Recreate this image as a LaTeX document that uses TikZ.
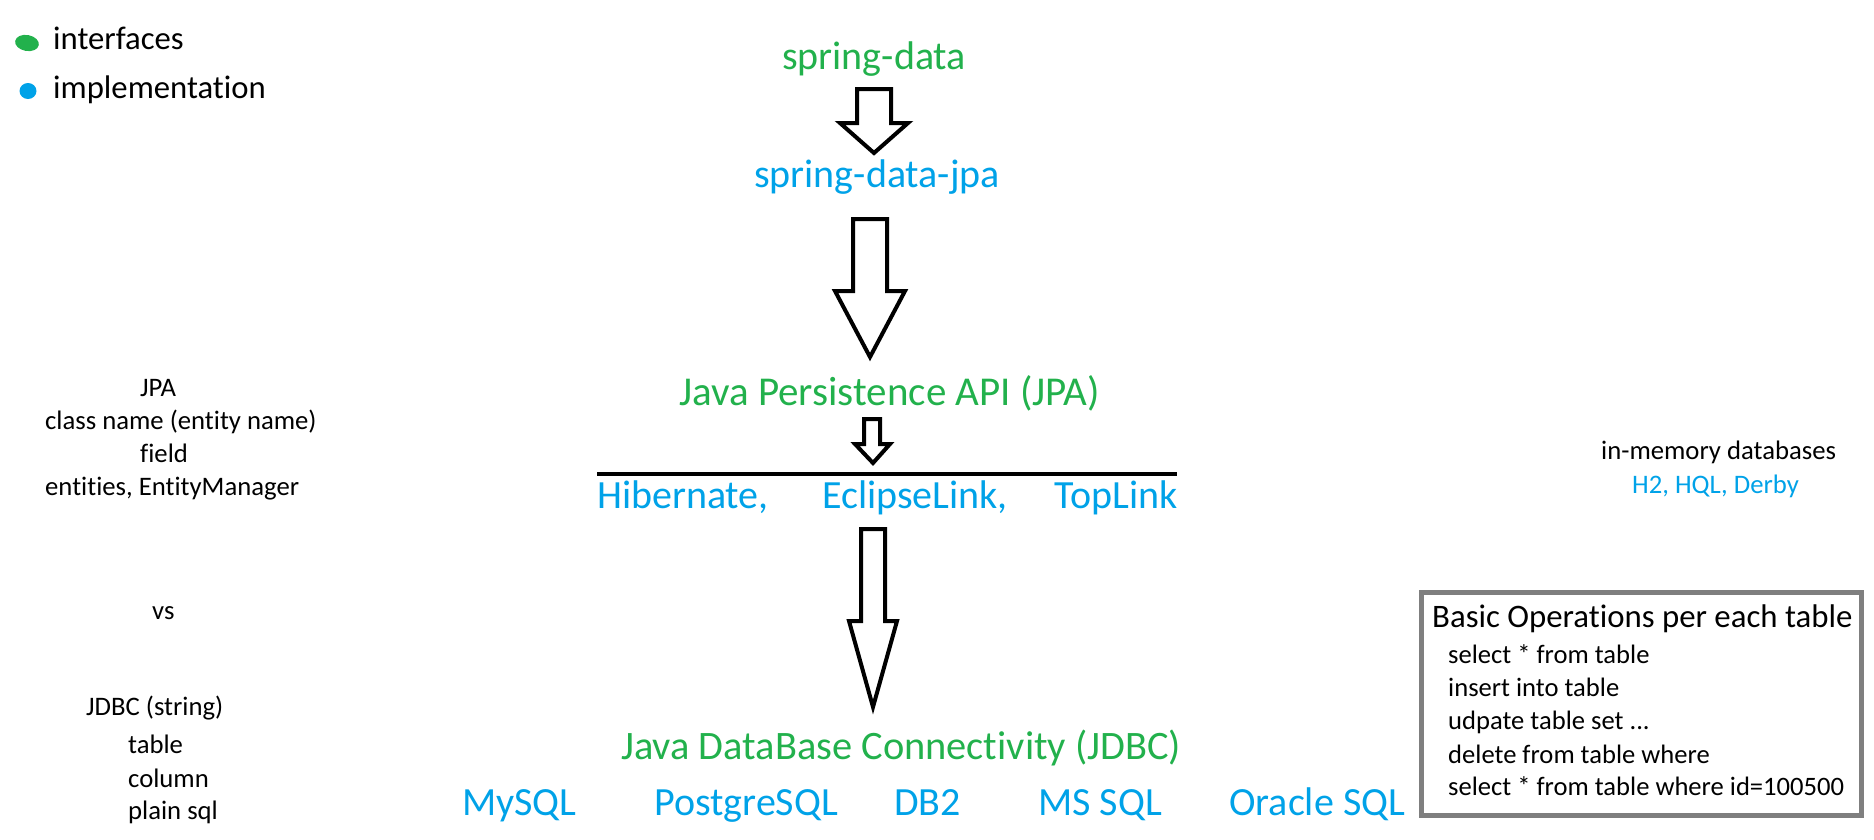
\documentclass[tikz,border=0pt]{standalone}
\usepackage{fontspec}
\setmainfont{Carlito}[Ligatures={NoCommon,NoContextual}]
\definecolor{igreen}{RGB}{34,177,76}
\definecolor{iblue}{RGB}{0,162,232}
\definecolor{boxgray}{RGB}{127,127,127}
\tikzset{
  big/.style={font=\fontsize{40}{48}\selectfont, inner sep=0pt, anchor=base west},
  note/.style={font=\fontsize{26.7}{32}\selectfont, inner sep=0pt, anchor=base west},
  legendtext/.style={font=\fontsize{32.7}{39}\selectfont, inner sep=0pt, anchor=base west},
  boxtitle/.style={font=\fontsize{32.8}{39}\selectfont, inner sep=0pt, anchor=base west},
  boxline/.style={font=\fontsize{26.6}{32}\selectfont, inner sep=0pt, anchor=base west},
  blockarrow/.style={draw=black, fill=white, line width=4pt, line join=miter, miter limit=4},
}
\newcommand{\blockarr}[8]{% sl sr top wy wl wr tipx tipy
  \draw[blockarrow] (#1,#3) -- (#2,#3) -- (#2,#4) -- (#6,#4) -- (#7,#8) -- (#5,#4) -- (#1,#4) -- cycle;}
\begin{document}
\begin{tikzpicture}[x=1pt,y=-1pt]
\useasboundingbox (0,0) rectangle (1874,839);
% legend
\fill[igreen, rotate around={-10:(27,43)}] (27,43) ellipse [x radius=12, y radius=8];
\fill[iblue] (28,91) ellipse [x radius=8.5, y radius=8];
\node[legendtext] (lint) at (53,49) {interfaces};
\node[legendtext] (limp) at (53,98.5) {implementation};
% main chain
\node[big, text=igreen] (sd) at (782,69) {spring-data};
\node[big, text=iblue] (sdj) at (754,187) {spring-data-jpa};
\node[big, text=igreen, font=\fontsize{41}{48}\selectfont] (jpa) at (679,405) {Java Persistence API (JPA)};
\node[big, text=iblue] (hib) at (597,508) {Hibernate,};
\node[big, text=iblue] (ecl) at (822,508) {EclipseLink,};
\node[big, text=iblue] (top) at (1054,508) {TopLink};
\node[big, text=igreen, font=\fontsize{40.4}{48}\selectfont] (jdbc) at (621,759) {Java DataBase Connectivity (JDBC)};
\node[big, text=iblue] (mysql) at (462,815) {MySQL};
\node[big, text=iblue] (pg) at (654,815) {PostgreSQL};
\node[big, text=iblue] (db2) at (894,815) {DB2};
\node[big, text=iblue] (ms) at (1038,815) {MS SQL};
\node[big, text=iblue] (ora) at (1229,815) {Oracle SQL};
% separator line
\coordinate (lineL) at (597,474);
\coordinate (lineR) at (1177,474);
\draw[line width=4pt] (lineL) -- (lineR);
% block arrows
\blockarr{857}{891}{89}{123}{840}{908}{874}{153}
\blockarr{853}{887}{219}{291}{835}{905}{870}{357}
\blockarr{864}{880}{419}{444}{855}{890}{873}{463}
\blockarr{861}{885}{529}{621}{849}{897}{873}{707}
% left notes
\node[note] (n1) at (140,396) {JPA};
\node[note] (n2) at (45,429) {class name (entity name)};
\node[note] (n3) at (140,462) {field};
\node[note] (n4) at (45,495) {entities, EntityManager};
\node[note] (n5) at (152,619) {vs};
\node[note] (n6) at (86,715) {JDBC (string)};
\node[note] (n7) at (128,753) {table};
\node[note] (n8) at (128,787) {column};
\node[note] (n9) at (128,819) {plain sql};
% right notes
\node[note] (mem) at (1601,459) {in-memory databases};
\node[note, text=iblue] (h2) at (1632,493) {H2, HQL, Derby};
% box
\draw[boxgray, line width=5pt] (1421,592) rectangle (1861,815);
\node[boxtitle] (bt) at (1432,627) {Basic Operations per each table};
\node[boxline] (b1) at (1448,663) {select * from table};
\node[boxline] (b2) at (1448,696) {insert into table};
\node[boxline] (b3) at (1448,729) {udpate table set ...};
\node[boxline] (b4) at (1448,763) {delete from table where};
\node[boxline] (b5) at (1448,795) {select * from table where id=100500};
\end{tikzpicture}
\end{document}
